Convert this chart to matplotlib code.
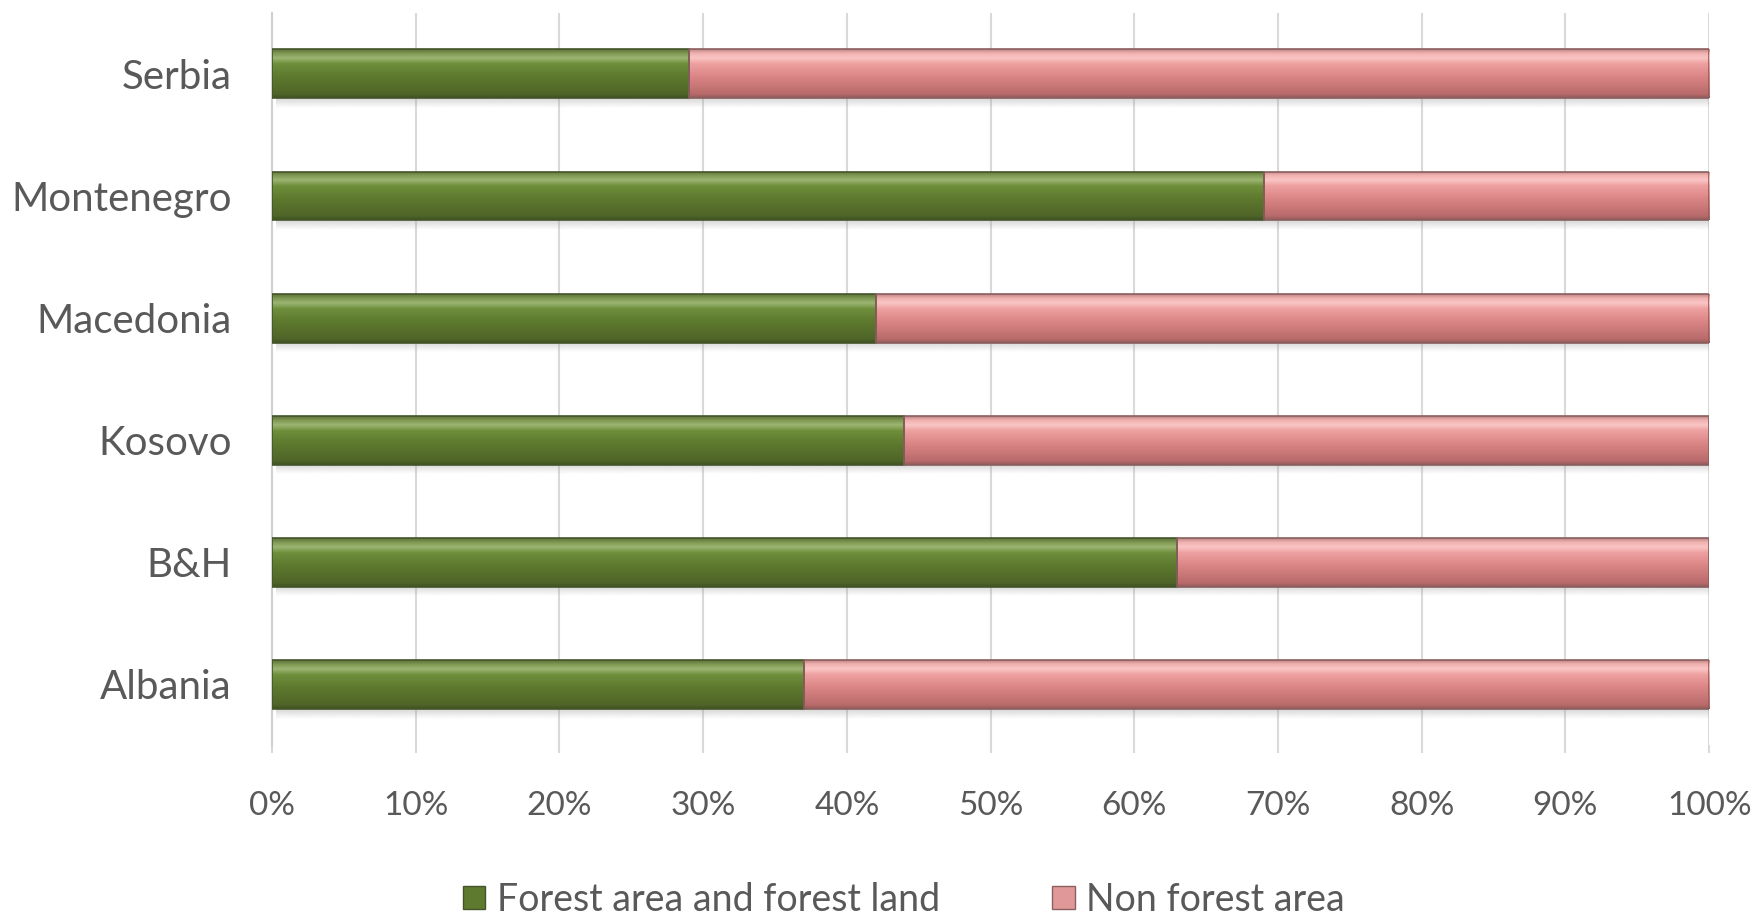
import numpy as np
import matplotlib
matplotlib.use("Agg")
import matplotlib.pyplot as plt
from matplotlib.colors import LinearSegmentedColormap
from matplotlib.patches import Patch
from matplotlib.ticker import PercentFormatter

countries = ["Albania", "B&H", "Kosovo", "Macedonia", "Montenegro", "Serbia"]
forest = [37, 63, 44, 42, 69, 29]
non_forest = [63, 37, 56, 58, 31, 71]
series_names = ["Forest area and forest land", "Non forest area"]

plt.rcParams["font.family"] = ["Lato", "DejaVu Sans"]
text_grey = "#595959"

# shading profiles, bottom -> top of each bar
green_cmap = LinearSegmentedColormap.from_list(
    "g", [(0.0, "#3f4f22"), (0.08, "#4f6428"), (0.45, "#5e7a2e"),
          (0.70, "#6f8f3c"), (0.82, "#9cb673"), (0.92, "#7d9650"), (1.0, "#5d6f3a")])
pink_cmap = LinearSegmentedColormap.from_list(
    "p", [(0.0, "#8e5a5a"), (0.08, "#b96a6a"), (0.45, "#dc8686"),
          (0.70, "#eea0a0"), (0.82, "#f9c6c4"), (0.92, "#efb0ae"), (1.0, "#bb8383")])

fig = plt.figure(figsize=(17.62, 9.18), dpi=100)
ax = fig.add_axes([0.1544, 0.188, 0.8156, 0.798])

y = np.arange(len(countries))
h = 0.40
grad = np.linspace(0, 1, 256).reshape(-1, 1)

# soft shadow under each bar
shadow_cmap = LinearSegmentedColormap.from_list(
    "s", [(0, (0.6, 0.6, 0.6, 0.0)), (1, (0.6, 0.6, 0.6, 0.4))])
for yi in y:
    ax.imshow(grad, extent=[0.3, 100, yi - h / 2 - 0.08, yi - h / 2],
              origin="lower", aspect="auto", cmap=shadow_cmap, zorder=1.5)

bars_f = ax.barh(y, forest, height=h, color="#5e7a2e", zorder=2)
bars_n = ax.barh(y, non_forest, left=forest, height=h, color="#e09898", zorder=2)

for bars, cmap, edge in [(bars_f, green_cmap, "#44552a"), (bars_n, pink_cmap, "#8a5f5f")]:
    for p in bars:
        x0, y0 = p.get_x(), p.get_y()
        w, hh = p.get_width(), p.get_height()
        im = ax.imshow(grad, extent=[x0, x0 + w, y0, y0 + hh], origin="lower",
                       aspect="auto", cmap=cmap, zorder=3)
        im.set_clip_path(p)
        ax.add_patch(plt.Rectangle((x0, y0), w, hh, fill=False,
                                   edgecolor=edge, linewidth=1.2, zorder=4))

ax.set_xlim(0, 100)
ax.set_ylim(-0.5, len(countries) - 0.5)
ax.set_xticks(np.arange(0, 101, 10))
ax.xaxis.set_major_formatter(PercentFormatter(decimals=0))
ax.set_yticks(y)
ax.set_yticklabels(countries)

ax.grid(axis="x", color="#d9d9d9", linewidth=1.5, zorder=0)
ax.set_axisbelow(True)
for side in ["top", "right", "bottom"]:
    ax.spines[side].set_visible(False)
ax.spines["left"].set_color("#d0d0d0")
ax.spines["left"].set_linewidth(1.5)

ax.tick_params(axis="x", length=6, color="#d9d9d9", width=1.5, pad=27,
               labelsize=24, labelcolor=text_grey)
ax.tick_params(axis="y", length=0, pad=29, labelsize=29, labelcolor=text_grey)

handles = [Patch(facecolor="#5e7a2e", edgecolor="#44552a"),
           Patch(facecolor="#e09898", edgecolor="#8a5f5f")]
fig.legend(handles, series_names, loc="center", bbox_to_anchor=(0.513, 0.02),
           ncol=2, frameon=False, fontsize=27, labelcolor=text_grey,
           handlelength=0.6, handleheight=0.6, handletextpad=0.3, columnspacing=3.0)

fig.savefig("out.png", dpi=100, facecolor="white")
